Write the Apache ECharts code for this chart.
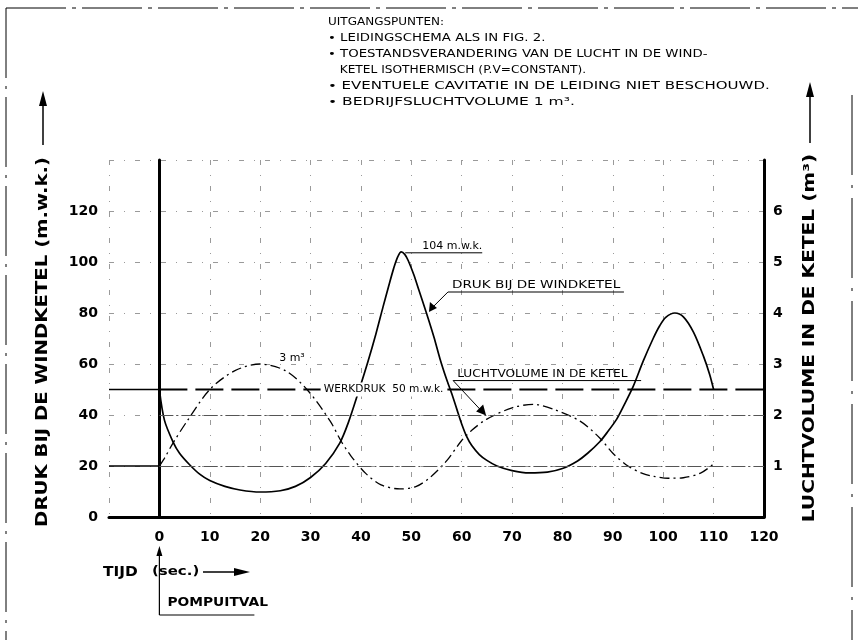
<!DOCTYPE html>
<html><head><meta charset="utf-8">
<script src="https://cdn.jsdelivr.net/npm/echarts@6/dist/echarts.min.js"></script>
<style>html,body{margin:0;padding:0;background:#fff}#c{width:858px;height:640px}</style>
</head><body><div id="c"></div>
<script>
// ---------------- data ----------------
const timeTicks = [0,10,20,30,40,50,60,70,80,90,100,110,120];
const pressureTicks = [0,20,40,60,80,100,120];          // m.w.k.
const volumeTicks = [1,2,3,4,5,6];                       // m3
// before pump failure
const preTime = [-10, 0];
const prePressure = [50, 50];
const preVolume = [1, 1];
// pressure at the air vessel (m.w.k.)
const pressureTime = [0,1,2.7,4,6,8,10,13,16,20,24,27,30,33,35.8,37.5,39.5,41.4,43,44.4,45.5,46.5,47.3,48,48.7,49.4,50.5,51.5,53,54.5,55.7,57,58,59,60,61,62,63.5,65,67,70,73.4,77,80,83,85,87.4,89,90.8,92,94,96,98,99.3,100.5,102.3,104,106,108,109.2,110];
const pressure =     [50,38,29.5,25,20.5,16.8,14.3,12,10.6,9.8,10.3,12,15.5,21,29,37,49,61,72,82.5,90.5,97.5,102,104,103,100.5,95,89,80,70.5,62,54,48.5,42.5,36.5,31.5,28,24.5,22.2,20,18.2,17.3,17.6,19,22,25,29.5,33.5,38.5,43,51,61,70,75,78.3,80,78.5,72.5,63,56,50];
// air volume in the vessel (m3)
const volumeTime = [0,1,2.7,5.5,10,15,20,25,29.3,33.9,36,38,41,44,47.7,51,54,57,60,62,65,70,74.2,78,83.5,87.4,90,93,96,98,101,104,107.4,110];
const volume =     [1,1.15,1.45,1.88,2.5,2.87,3.0,2.87,2.5,1.88,1.5,1.2,0.85,0.63,0.55,0.6,0.8,1.1,1.5,1.7,1.92,2.14,2.21,2.12,1.88,1.55,1.25,1.0,0.85,0.8,0.76,0.77,0.86,1.04];
const werkdruk = 50;   // working pressure m.w.k.
const refLevels = [20, 40];

const notes = [
  'UITGANGSPUNTEN:',
  '\u2022 LEIDINGSCHEMA ALS IN FIG. 2.',
  '\u2022 TOESTANDSVERANDERING VAN DE LUCHT IN DE WIND-',
  '   KETEL ISOTHERMISCH (P.V=CONSTANT).',
  '\u2022 EVENTUELE CAVITATIE IN DE LEIDING NIET BESCHOUWD.',
  '\u2022 BEDRIJFSLUCHTVOLUME 1 m\u00b3.'
];

// --------------- chart ---------------
const zip = (a, b) => a.map((t, i) => [t, b[i]]);
const FONT = 'DejaVu Sans';
const chart = echarts.init(document.getElementById('c'), null, {renderer: 'canvas'});

const gridLine = {show: true, lineStyle: {color: '#9a9a9a', width: 1, type: [5, 10, 1, 10]}};
const tickFont = {color: '#000', fontFamily: FONT, fontWeight: 'bold', fontSize: 14};

chart.setOption({
  animation: false,
  backgroundColor: '#fff',
  grid: {left: 109, right: 94, top: 160, bottom: 123},
  xAxis: {
    type: 'value', min: -10, max: 120, interval: 10,
    axisLine: {show: true, onZero: false, lineStyle: {color: '#000', width: 3}},
    axisTick: {show: false},
    axisLabel: Object.assign({margin: 13, formatter: v => timeTicks.includes(v) ? String(v) : ''}, tickFont),
    splitLine: gridLine
  },
  yAxis: [{
    type: 'value', min: 0, max: 140, interval: 20, position: 'left',
    axisLine: {show: true, lineStyle: {color: '#000', width: 3}},
    axisTick: {show: false},
    axisLabel: Object.assign({margin: 11, formatter: v => pressureTicks.includes(v) ? String(v) : ''}, tickFont),
    splitLine: gridLine
  }, {
    type: 'value', min: 0, max: 7, interval: 1, position: 'right',
    axisLine: {show: true, lineStyle: {color: '#000', width: 3}},
    axisTick: {show: false},
    axisLabel: Object.assign({margin: 9, formatter: v => volumeTicks.includes(v) ? String(v) : ''}, tickFont),
    splitLine: {show: false}
  }],
  series: [
    {type: 'line', name: 'ref', data: [], silent: true,
     markLine: {symbol: 'none', silent: true, label: {show: false},
       lineStyle: {color: '#555', width: 1, type: [14, 3, 2, 3]},
       data: refLevels.map(v => [{coord: [0, v]}, {coord: [120, v]}])}},
    {type: 'line', data: zip(preTime, prePressure), showSymbol: false, lineStyle: {color: '#000', width: 1.6}},
    {type: 'line', data: zip(preTime, preVolume), yAxisIndex: 1, showSymbol: false, lineStyle: {color: '#000', width: 1.4}},
    {type: 'line', data: [[0, werkdruk], [120, werkdruk]], showSymbol: false, z: 3,
     lineStyle: {color: '#000', width: 2.2, type: [28, 8]}},
    {type: 'line', name: 'druk', data: zip(pressureTime, pressure), smooth: 0.3, showSymbol: false, z: 4,
     lineStyle: {color: '#000', width: 1.7}},
    {type: 'line', name: 'volume', data: zip(volumeTime, volume), yAxisIndex: 1, smooth: 0.3, showSymbol: false, z: 4,
     lineStyle: {color: '#000', width: 1.3, type: [10, 4, 2, 4]}}
  ]
});

// -------- annotations (positions derived from axes where tied to data) --------
const P = (x, y) => chart.convertToPixel({xAxisIndex: 0, yAxisIndex: 0}, [x, y]);
const g = [];
function txt(x, y, text, o) {
  o = o || {};
  g.push({type: 'text', x: x, y: y, rotation: o.rot || 0, scaleX: o.sx || 1, z: 50,
    style: {text: text, font: (o.weight || 'normal') + ' ' + (o.size || 10) + 'px ' + FONT, fill: '#000',
      align: o.align || 'left', verticalAlign: o.va || 'middle',
      backgroundColor: o.bg, padding: o.pad}});
}
function line(x1, y1, x2, y2, w, dash) {
  g.push({type: 'line', z: 50, shape: {x1, y1, x2, y2}, style: {stroke: '#000', lineWidth: w || 1, lineDash: dash}});
}
function tri(pts) { g.push({type: 'polygon', z: 50, shape: {points: pts}, style: {fill: '#000'}}); }

// frame
line(6, 8, 858, 8, 1, [60, 6, 4, 6]);
line(6, 8, 6, 640, 1, [70, 8, 3, 8]);
line(852, 95, 852, 640, 1, [80, 10, 3, 10]);

// notes block
const noteScale = [1.2, 1.33, 1.33, 1.22, 1.5, 1.55];
notes.forEach((s, i) => txt(328, 22 + i * 16, s, {size: 10, sx: noteScale[i]}));

// axis titles
txt(43, 342, 'DRUK BIJ DE WINDKETEL (m.w.k.)', {size: 15, weight: 'bold', rot: Math.PI / 2, align: 'center', sx: 1.31});
line(43, 145, 43, 104, 1.5); tri([[43, 91], [39, 106], [47, 106]]);
txt(810, 338, 'LUCHTVOLUME IN DE KETEL (m\u00b3)', {size: 15, weight: 'bold', rot: Math.PI / 2, align: 'center', sx: 1.34});
line(810, 143, 810, 96, 1.5); tri([[810, 82], [806, 97], [814, 97]]);

// x axis title + pump failure marker
const p0 = P(0, 0);
txt(103, 572, 'TIJD', {size: 14, weight: 'bold', sx: 1.1});
txt(152, 572, '(sec.)', {size: 13, weight: 'bold', sx: 1.15});
line(203, 572, 236, 572, 1.5); tri([[250, 572], [234, 568], [234, 576]]);
line(p0[0], 552, p0[0], 615, 1.2); tri([[p0[0], 546], [p0[0] - 3, 556], [p0[0] + 3, 556]]);
txt(p0[0] + 8, 603, 'POMPUITVAL', {size: 12, weight: 'bold', sx: 1.15});
line(p0[0], 615, p0[0] + 95, 615, 1.2);

// in-plot annotations
const pk = P(48, 104);
txt(pk[0] + 21, pk[1] - 5, '104 m.w.k.', {size: 10, sx: 1.1});
line(pk[0] + 4, pk[1] + 1, pk[0] + 81, pk[1] + 1, 1);

const dr = P(53.3, 80);
line(dr[0] + 20, dr[1] - 21, dr[0] + 196, dr[1] - 21, 1.2);
txt(dr[0] + 24, dr[1] - 28, 'DRUK BIJ DE WINDKETEL', {size: 10, sx: 1.36});
line(dr[0] + 20, dr[1] - 21, dr[0] + 4, dr[1] - 5, 1);
tri([[dr[0] + 1, dr[1] - 1], [dr[0] + 2, dr[1] - 11], [dr[0] + 9, dr[1] - 5]]);

const v3 = P(20, 60);
txt(v3[0] + 19, v3[1] - 6, '3 m\u00b3', {size: 10, sx: 1.1});

const wk = P(32, 50);
txt(wk[0], wk[1], 'WERKDRUK  50 m.w.k.', {size: 10, sx: 1.06, bg: '#fff', pad: [2, 3, 2, 3]});

const lv = P(58.3, 53.5);
txt(lv[0] + 4, lv[1] - 6, 'LUCHTVOLUME IN DE KETEL', {size: 10, sx: 1.22});
line(lv[0], lv[1], lv[0] + 188, lv[1], 1);
line(lv[0], lv[1], lv[0] + 29, lv[1] + 31, 1);
tri([[lv[0] + 33, lv[1] + 35], [lv[0] + 23, lv[1] + 31], [lv[0] + 30, lv[1] + 24]]);

chart.setOption({graphic: {elements: g}});
</script>
</body></html>
